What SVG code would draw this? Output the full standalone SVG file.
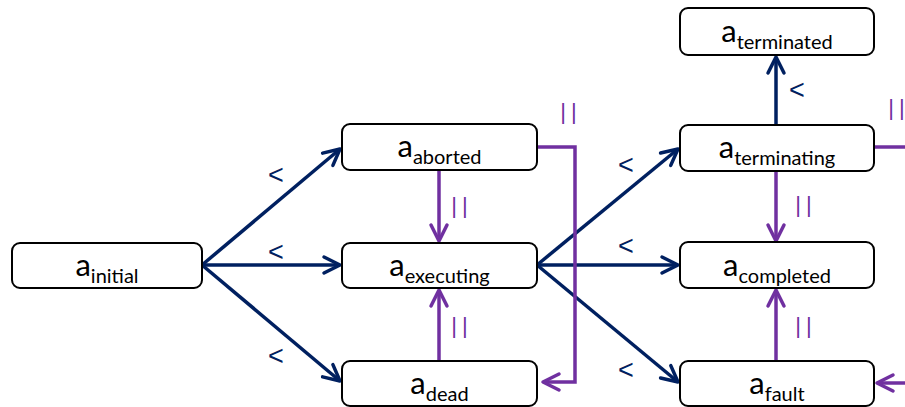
<svg xmlns="http://www.w3.org/2000/svg" width="905" height="407" viewBox="0 0 905 407">
  <style>
    .node rect { fill: #ffffff; stroke: #000000; stroke-width: 2; }
    .node text { font-family: Lato, "Liberation Sans", sans-serif; font-size: 31px; fill: #000000; text-anchor: middle; }
    .node text .sub { font-size: 20px; }
    .seq { stroke: #002060; stroke-width: 3.5; fill: none; marker-end: url(#arrowSeq); }
    .par { stroke: #7030A0; stroke-width: 3.5; fill: none; }
    .par.arrow { marker-end: url(#arrowPar); }
    .lt { font-family: "Liberation Sans", sans-serif; font-size: 27px; fill: #002060; text-anchor: middle; }
    .bars { font-family: "Liberation Sans", sans-serif; font-size: 22px; fill: #7030A0; text-anchor: middle; letter-spacing: 5px; }
  </style>
  <defs>
    <marker id="arrowSeq" markerUnits="userSpaceOnUse" viewBox="-20 -12 24 24" refX="0" refY="0" markerWidth="24" markerHeight="24" orient="auto" overflow="visible">
      <path d="M-16,-8 L0,0 L-16,8" fill="none" stroke="#002060" stroke-width="3.5" stroke-linecap="round" stroke-linejoin="round"/>
    </marker>
    <marker id="arrowPar" markerUnits="userSpaceOnUse" viewBox="-20 -12 24 24" refX="0" refY="0" markerWidth="24" markerHeight="24" orient="auto" overflow="visible">
      <path d="M-16,-8 L0,0 L-16,8" fill="none" stroke="#7030A0" stroke-width="3.5" stroke-linecap="round" stroke-linejoin="round"/>
    </marker>
  </defs>

  <!-- connectors -->
  <g id="connectors">
    <!-- precedence (<) -->
    <line class="seq" x1="202" y1="265" x2="340" y2="149"/>
    <line class="seq" x1="202" y1="265" x2="340" y2="265"/>
    <line class="seq" x1="202" y1="265" x2="340" y2="381"/>
    <line class="seq" x1="537" y1="265" x2="678" y2="149"/>
    <line class="seq" x1="537" y1="265" x2="678" y2="265"/>
    <line class="seq" x1="537" y1="265" x2="678" y2="382"/>
    <line class="seq" x1="776" y1="125" x2="776" y2="57"/>
    <!-- parallel (||) -->
    <line class="par arrow" x1="439" y1="170" x2="439" y2="241"/>
    <line class="par arrow" x1="439" y1="361" x2="439" y2="290"/>
    <path class="par arrow" d="M537,147 H575 V382 H543"/>
    <line class="par arrow" x1="776" y1="171" x2="776" y2="241"/>
    <line class="par arrow" x1="776" y1="361" x2="776" y2="290"/>
    <path class="par" d="M874,147 H910"/>
    <path class="par arrow" d="M912,383 H877"/>

    <!-- relation labels -->
    <text class="lt" x="276" y="184">&lt;</text>
    <text class="lt" x="276" y="261">&lt;</text>
    <text class="lt" x="276" y="365">&lt;</text>
    <text class="lt" x="626" y="174">&lt;</text>
    <text class="lt" x="626" y="255">&lt;</text>
    <text class="lt" x="626" y="379">&lt;</text>
    <text class="lt" x="797" y="99">&lt;</text>

    <text class="bars" x="462" y="213">||</text>
    <text class="bars" x="462" y="333">||</text>
    <text class="bars" x="571" y="119">||</text>
    <text class="bars" x="806" y="212">||</text>
    <text class="bars" x="806" y="333">||</text>
    <text class="bars" x="899" y="115">||</text>
  </g>

  <g id="initial" class="node">
    <rect x="12" y="243" width="190" height="45" rx="8"/>
    <text x="107" y="276">a<tspan class="sub" dy="7">initial</tspan></text>
  </g>
  <g id="aborted" class="node">
    <rect x="342" y="124" width="195" height="46" rx="8"/>
    <text x="439.5" y="157">a<tspan class="sub" dy="7">aborted</tspan></text>
  </g>
  <g id="executing" class="node">
    <rect x="342" y="243" width="195" height="45" rx="8"/>
    <text x="439.5" y="276">a<tspan class="sub" dy="7">executing</tspan></text>
  </g>
  <g id="dead" class="node">
    <rect x="342" y="361" width="195" height="45" rx="8"/>
    <text x="439.5" y="394">a<tspan class="sub" dy="7">dead</tspan></text>
  </g>
  <g id="terminated" class="node">
    <rect x="680" y="8" width="194" height="47" rx="8"/>
    <text x="777" y="42">a<tspan class="sub" dy="7">terminated</tspan></text>
  </g>
  <g id="terminating" class="node">
    <rect x="680" y="125" width="194" height="46" rx="8"/>
    <text x="777" y="158">a<tspan class="sub" dy="7">terminating</tspan></text>
  </g>
  <g id="completed" class="node">
    <rect x="680" y="242" width="194" height="46" rx="8"/>
    <text x="777" y="276">a<tspan class="sub" dy="7">completed</tspan></text>
  </g>
  <g id="fault" class="node">
    <rect x="680" y="361" width="194" height="45" rx="8"/>
    <text x="777" y="394">a<tspan class="sub" dy="7">fault</tspan></text>
  </g>
</svg>
